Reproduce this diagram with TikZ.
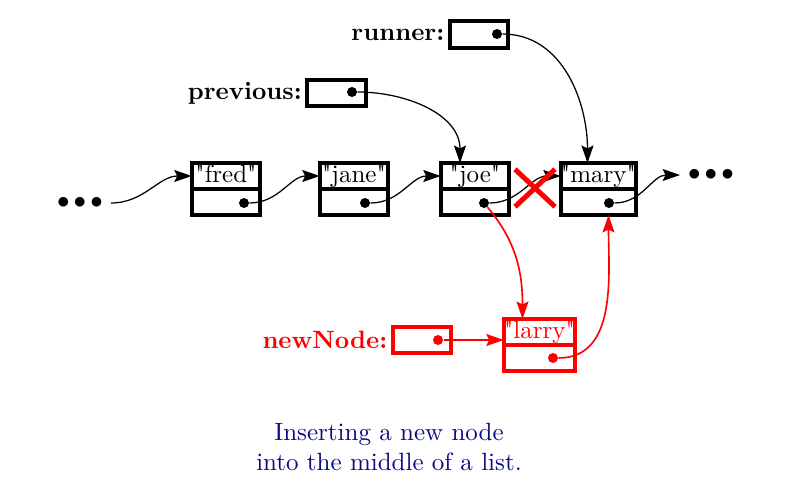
\documentclass[tikz,border=0pt]{standalone}
\usepackage{color}
\usepackage{tikz}
\usetikzlibrary{calc,arrows.meta,positioning,shapes.misc}

\definecolor{captionblue}{RGB}{10,10,130}

\tikzset{
	cellpart/.style={draw,line width=1.6pt,outer sep=0pt,inner sep=0pt,
		minimum width=27.4pt,minimum height=10.4pt,text height=1.6ex,text depth=.45ex},
	ptrbox/.style={draw,line width=1.6pt,outer sep=0pt,inner sep=0pt,
		minimum width=23.4pt,minimum height=10.6pt},
	dot/.style={circle,fill,inner sep=0pt,minimum size=4pt},
	link/.style={line width=0.5pt,-{Stealth[length=7pt,width=4.8pt,inset=1.2pt]}},
	newlink/.style={link,red,line width=0.65pt},
	moredots/.style={inner xsep=3pt},
	ptrlabel/.style={font=\bfseries,inner xsep=1pt}
}
\newcommand{\qq}[1]{\textquotedbl#1\textquotedbl}
\newcommand{\threedots}{${\bullet}\mkern3mu{\bullet}\mkern3mu{\bullet}$}

\begin{document}
\begin{tikzpicture}[x=0.4pt,y=0.4pt]
	\useasboundingbox (0,0) rectangle (795,-493);
	% the list
	\node[cellpart] (fred) at (226,-176) {\qq{fred}};
	\node[cellpart,below=0pt of fred] (fredptr) {};
	\node[cellpart] (jane) at (354,-176) {\qq{jane}};
	\node[cellpart,below=0pt of jane] (janeptr) {};
	\node[cellpart] (joe) at (475,-176) {\qq{joe}};
	\node[cellpart,below=0pt of joe] (joeptr) {};
	\node[cellpart,minimum width=30.2pt] (mary) at (598.5,-176) {\qq{mary}};
	\node[cellpart,minimum width=30.2pt,below=0pt of mary] (maryptr) {};
	\node[moredots] (leftdots) at (80,-203) {\threedots};
	\node[moredots] (rightdots) at (711,-175) {\threedots};
	\node[dot] (fredp) at (244,-203) {};
	\node[dot] (janep) at (365,-203) {};
	\node[dot] (joep) at (484,-203) {};
	\node[dot] (maryp) at (609,-203) {};
	% pointers
	\node[ptrbox] (runner) at (479,-34.5) {};
	\node[ptrlabel,left=1pt of runner] (runnerlbl) {runner:};
	\node[dot] (runnerp) at (497,-34) {};
	\node[ptrbox] (prev) at (336.5,-93) {};
	\node[ptrlabel,left=1pt of prev] (prevlbl) {previous:};
	\node[dot] (prevp) at (352,-92) {};
	% the new node
	\node[cellpart,draw=red,text=red,minimum width=28.6pt] (larry) at (539.5,-332) {\qq{larry}};
	\node[cellpart,draw=red,minimum width=28.6pt,below=0pt of larry] (larryptr) {};
	\node[dot,red] (larryp) at (553,-358) {};
	\node[ptrbox,draw=red] (newbox) at (422,-340) {};
	\node[ptrlabel,text=red,left=1pt of newbox] (newlbl) {newNode:};
	\node[dot,red] (newp) at (438,-340) {};
	% links
	\draw[link] (leftdots.east) to[out=0,in=180] (fred.west);
	\draw[link] (fredp) to[out=0,in=180] (jane.west);
	\draw[link] (janep) to[out=0,in=180] (joe.west);
	\draw[link] (joep) to[out=0,in=180] (mary.west);
	\draw[link] (maryp) to[out=0,in=180] (rightdots.west);
	\draw[link] (prevp) to[out=0,in=90] ($(joe.north)+(-15,0)$);
	\draw[link] (runnerp) to[out=0,in=90] ($(mary.north)+(-11,0)$);
	\node[cross out,draw=red,line width=2pt,minimum width=14pt,minimum height=13pt,inner sep=0pt] (cut) at (535,-188) {};
	\draw[newlink] (joep) to[out=-50,in=90] ($(larry.north)+(-17,0)$);
	\draw[newlink] (larryp) to[out=0,in=-90] ($(maryptr.south)+(10,0)$);
	\draw[newlink] (newp) -- (newp -| larry.west);
	% caption
	\node[align=center,text=captionblue] (caption) at (389,-447)
	{Inserting a new node\\into the middle of a list.};
\end{tikzpicture}
\end{document}
